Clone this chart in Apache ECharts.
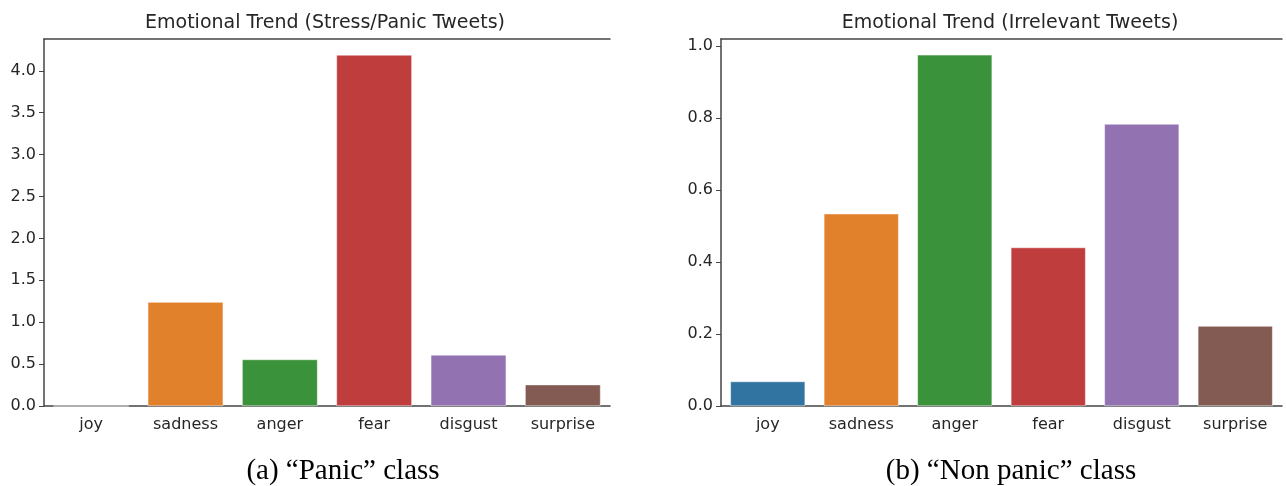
<!DOCTYPE html>
<html>
<head>
<meta charset="utf-8">
<script src="https://cdn.jsdelivr.net/npm/echarts@6/dist/echarts.min.js"></script>
<style>
html,body{margin:0;padding:0;background:#fff;}
#main{width:1286px;height:486px;}
</style>
</head>
<body>
<div id="main"></div>
<script>
const categories = ["joy", "sadness", "anger", "fear", "disgust", "surprise"];
const panicValues = [0, 1.24, 0.555, 4.19, 0.61, 0.255];
const nonPanicValues = [0.068, 0.534, 0.975, 0.44, 0.783, 0.222];
const panicTicks = ["0.0", "0.5", "1.0", "1.5", "2.0", "2.5", "3.0", "3.5", "4.0"];
const nonPanicTicks = ["0.0", "0.2", "0.4", "0.6", "0.8", "1.0"];
const barColors = ["#3274a1", "#e1812c", "#3a923a", "#c03d3e", "#9372b2", "#845b53"];
const titles = ["Emotional Trend (Stress/Panic Tweets)", "Emotional Trend (Irrelevant Tweets)"];
const captions = ["(a) \u201cPanic\u201d class", "(b) \u201cNon panic\u201d class"];

const chart = echarts.init(document.getElementById('main'), null, {renderer: 'canvas'});
const axisColor = '#444';
const labelFont = {fontFamily: 'DejaVu Sans', fontSize: 16, color: '#262626'};

const grids = [
  {left: 44, right: 676, top: 39, bottom: 80},
  {left: 721, right: 4, top: 39, bottom: 80}
];

function xAxes(i) {
  return [
    {
      type: 'category', gridIndex: i, data: categories, position: 'bottom',
      axisLine: {lineStyle: {color: axisColor, width: 1.5}},
      axisTick: {alignWithLabel: true, length: 5, lineStyle: {color: axisColor}},
      axisLabel: Object.assign({margin: 11}, labelFont)
    },
    {
      type: 'category', gridIndex: i, data: categories, position: 'top',
      axisLine: {lineStyle: {color: axisColor, width: 1.5}},
      axisTick: {show: false}, axisLabel: {show: false}
    }
  ];
}

function yAxis(i, max, ticks) {
  const vals = ticks.map(Number);
  return {
    type: 'value', gridIndex: i, min: 0, max: max,
    splitLine: {show: false},
    axisLine: {show: true, lineStyle: {color: axisColor, width: 1.5}},
    axisTick: {show: true, length: 5, lineStyle: {color: axisColor}, customValues: vals},
    axisLabel: Object.assign({margin: 8, customValues: vals, formatter: v => v.toFixed(1)}, labelFont)
  };
}

const option = {
  animation: false,
  backgroundColor: '#fff',
  grid: grids,
  title: [
    {text: titles[0], left: 320, top: 9, textAlign: 'center', textStyle: {fontFamily: 'DejaVu Sans', fontSize: 19, fontWeight: 'normal', color: '#262626'}},
    {text: titles[1], left: 1005, top: 9, textAlign: 'center', textStyle: {fontFamily: 'DejaVu Sans', fontSize: 19, fontWeight: 'normal', color: '#262626'}},
    {text: captions[0], left: 338, top: 452, textAlign: 'center', textStyle: {fontFamily: 'Liberation Serif', fontSize: 29, fontWeight: 'normal', color: '#000'}},
    {text: captions[1], left: 1006, top: 452, textAlign: 'center', textStyle: {fontFamily: 'Liberation Serif', fontSize: 29, fontWeight: 'normal', color: '#000'}}
  ],
  xAxis: [...xAxes(0), ...xAxes(1)],
  yAxis: [yAxis(0, 4.38, panicTicks), yAxis(1, 1.019, nonPanicTicks)],
  series: [
    {
      type: 'bar', xAxisIndex: 0, yAxisIndex: 0, barWidth: '80%',
      data: panicValues.map((v, k) => ({value: v, itemStyle: {color: barColors[k]}})),
      itemStyle: {borderColor: '#fff', borderWidth: 0.5}
    },
    {
      type: 'bar', xAxisIndex: 2, yAxisIndex: 1, barWidth: '80%',
      data: nonPanicValues.map((v, k) => ({value: v, itemStyle: {color: barColors[k]}})),
      itemStyle: {borderColor: '#fff', borderWidth: 0.5}
    }
  ]
};
chart.setOption(option);
</script>
</body>
</html>
